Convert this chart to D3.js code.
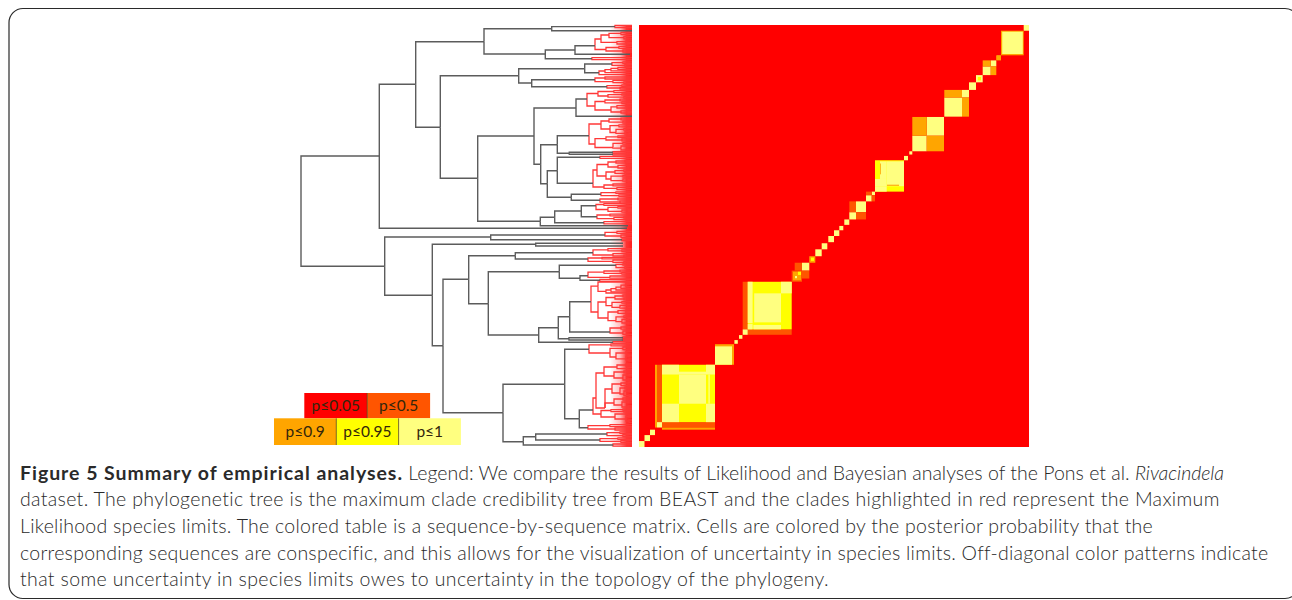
<!DOCTYPE html>
<html>
<head>
<meta charset="utf-8">
<script src="https://cdn.jsdelivr.net/npm/d3@7"></script>
<style>
  html, body { margin: 0; padding: 0; background: #fff; }
  svg { display: block; }
</style>
</head>
<body>
<svg width="1292" height="600"></svg>
<script>
// posterior probability classes, low to high
var levelLabels = ["p≤0.05", "p≤0.5", "p≤0.9", "p≤0.95", "p≤1"];
var levelColors = ["#ff0000", "#ff5500", "#ffa500", "#ffff00", "#ffff80"];

var sequenceCount = 195;

// single sequences / small groups along the diagonal: [from, to, level]
var diagonalCells = [
    [0, 2.75, 4], [2.75, 5.5, 4], [5.5, 8, 4], [47.7, 49.4, 4], [50, 51.7, 4],
    [88.15, 91.35, 4], [91.35, 94.15, 4], [94.65, 97.5, 4], [97.5, 100.15, 4],
    [100.15, 102.15, 4], [102.65, 105.15, 4], [132.5, 134.5, 4], [135.15, 136.65, 4],
    [165, 168.5, 4], [178.9, 180.8, 4], [192.35, 195, 4]
];

// blocks of the matrix, painted in order: [colFrom, colTo, rowFrom, rowTo, level]
var matrixBlocks = [
    // big clade bottom left
    [8, 9, 9, 38, 2], [9, 11.5, 11.5, 38, 1], [11.5, 38, 9, 11.5, 1], [11.5, 38, 8, 9, 2],
    [9, 11.5, 9, 11.5, 4], [11.5, 38, 11.5, 38, 3],
    [11.5, 20, 11.5, 20, 4], [20, 33.5, 20, 33.5, 4], [33.5, 38, 33.5, 38, 4],
    [11.5, 20, 33.5, 38, 4], [33.5, 38, 11.5, 20, 4], [20, 33.5, 33.5, 34.8, 4], [34.7, 35.4, 20, 33.5, 4],
    [38, 47.5, 38, 47.5, 2], [38, 46.5, 38, 46.5, 4],
    // second big clade
    [51.85, 54.35, 54.35, 76.35, 1], [54.35, 76.35, 51.85, 54.35, 1], [51.85, 54.35, 51.85, 54.35, 4],
    [54.35, 76.35, 54.35, 76.35, 3], [54.35, 56.8, 57.2, 76.35, 4], [57.6, 71, 57.6, 71, 4],
    [71, 76.35, 71, 76.35, 4], [57.2, 71, 54.35, 56.4, 4], [54.35, 56.8, 54.35, 56.8, 4],
    // orange patch and the run up to the next clade
    [76.35, 81.5, 76.35, 81.5, 1], [77, 81, 77, 81, 2], [78, 79, 78, 79, 4], [79.5, 81, 79.5, 81, 3],
    [81.5, 85.15, 81.5, 85.15, 4], [77.85, 81.5, 81.5, 85.15, 1], [81.5, 85.15, 77.85, 81.5, 1],
    [85.15, 88.15, 85.15, 88.15, 2], [86, 87.5, 86, 87.5, 3],
    [105.15, 108.5, 105.15, 108.5, 4], [108.5, 113.5, 108.5, 113.5, 4],
    [105.15, 108.5, 108.5, 113.5, 1], [108.5, 113.5, 105.15, 108.5, 1],
    [113.5, 116.35, 113.5, 116.35, 4], [116.35, 118, 116.35, 118, 4],
    [113.5, 116.35, 116.35, 118, 1], [116.35, 118, 113.5, 116.35, 1],
    // yellow block in the middle
    [118, 132.5, 118, 132.5, 3], [118, 123.85, 120.5, 123.85, 4], [118, 120.5, 118, 120.5, 4], [120.5, 123.85, 118, 120.5, 4],
    [120.5, 123.85, 123.85, 132, 4], [123.85, 132.5, 120.5, 132, 4], [120.6, 121, 126, 131, 2], [124, 130, 120.7, 121.2, 2],
    // pairs above it
    [136.65, 143.85, 136.65, 143.85, 4], [143.85, 152.5, 143.85, 152.5, 4],
    [136.65, 143.85, 143.85, 152.5, 2], [143.85, 152.5, 136.65, 143.85, 2],
    [152.65, 161.5, 152.65, 161.5, 4], [161.5, 165, 161.5, 165, 4],
    [152.65, 161.5, 161.5, 165, 2], [161.5, 165, 152.65, 161.5, 2],
    [168.5, 171.85, 168.5, 171.85, 4], [169.4, 171, 169.4, 171, 3],
    [171.85, 175.85, 171.85, 175.85, 4], [175.85, 178.65, 175.85, 178.65, 4],
    [171.85, 175.85, 175.85, 178.65, 2], [175.85, 178.65, 171.85, 175.85, 2],
    [178.65, 181, 178.65, 181, 2], [181, 192.35, 181, 192.35, 2], [181.6, 191.9, 181.6, 191.9, 4]
];

// tree nodes: [age, row, ...children]; a bare number is a tip at age 0 on that row
var blackTree = [331, 186,
    [252.7, 131,
        [216.3, 59.3,
            [148, 16.7,
                [80.3, 3.7, [17, 1.6], [0, 5.7]],
                [86.7, 29, [57, 25, [37, 20.7], [2, 29.3]], [40, 33.7]]],
            [191.7, 102.3,
                [113.3, 50.7,
                    [47.3, 43.7, [20, 39], [33, 47.7]],
                    [100.3, 58, [37, 54.7], [25, 61.7]]],
                [154.3, 153.3,
                    [98, 111,
                        [56, 83, [45, 74], [0, 91.3]],
                        [91.3, 139.3,
                            [74.7, 119.7, [43, 110.7], [62.7, 128.3, [19, 127.3], [19, 129.3]]],
                            [84.7, 158.7,
                                [74.7, 145.7, [32, 132.3], [39, 158.3]],
                                [60.7, 172.3, [31, 169.3], [32, 175.3]]]]],
                    [91.7, 196.3,
                        [77.3, 192.3, [50.7, 186, [36, 180.7], [35, 191.7]], [28, 197.7]],
                        [4, 200.7]]]]],
        [5, 203.3]],
    [247.3, 241.3,
        [141.3, 212, [27, 210], [10, 214.7]],
        [199.7, 270.3,
            [96.3, 219.3, [9, 218.3], [9, 221]],
            [189, 320.7,
                [163.3, 254.3,
                    [116.7, 230.7, [39, 227.7], [44, 234]],
                    [143.7, 278.7,
                        [72.7, 246.7, [16, 240.3], [52, 253.3, [44, 250.7], [32, 255.3]]],
                        [93.3, 310,
                            [73.7, 302.7,
                                [62.3, 291.7, [41, 276.7], [22, 307]],
                                [63, 313.7, [9, 312.7], [9, 315]]],
                            [19, 317.3]]]],
                [129, 387.7,
                    [67.3, 359.3, [43, 324.3], [52.7, 393.7, [39, 385], [44, 402.7]]],
                    [108.7, 416.7, [96.3, 411.7, [25, 409], [32, 415]], [19, 420]]]]]]
];

// Maximum Likelihood species, hang off the leaves of blackTree
var redClades = [
    [17, 1.6, 0.5, 2.7],
    [37, 20.7,
        [31, 14, [23, 10, [11, 8.4, 7.3, 9.5], [8, 12.7, 11.6, 13.8]], [15, 17.4, [6, 16.6, 15.9, 17.6], [5, 19, 18.4, 19.8]]],
        [26, 24.5, [13, 22.5, 21.3, 23.4], [9, 26, 25, 27]]],
    [40, 33.7, 32.6, 34.6],
    [20, 39, [9, 37.6, 36.8, 38.4], [7, 40.4, 39.5, 41.2]],
    [33, 47.7, 49.6, [27, 46, 47.6, [21, 44.6, 45.8, [14, 43.4, 44.4, 42.4]]]],
    [37, 54.7, [27, 53, 52, 54], [19, 56.6, 55.4, [8, 57.6, 56.8, 58.4]]],
    [25, 61.7, [10, 60.6, 59.8, 61.4], [12, 63, 62.4, 64]],
    [45, 74,
        [34, 68.5, [18, 66.5, 65.6, 67.6], [24, 71, [10, 69.6, 69, 70.2], [8, 72.2, 71.4, 73]]],
        [37, 81, [27, 76.5, [12, 75, 74.2, 75.8], [10, 77.8, 77, 78.6]], [21, 85, [15, 81.8, [6, 80.6, 79.8, 81.2], [5, 83, 82.2, 83.8]], [11, 87, [5, 85.8, 85, 86.6], [4, 88, 87.4, 88.8]]]]],
    [43, 110.7,
        [31, 99,
            [23, 96, [11, 94, 93.2, 94.8], [9, 97.2, 96.2, 98]],
            [22, 104, [13, 100.6, [5, 99.8, 99, 100.4], [5, 101.8, 101.2, 102.4]], [16, 107.5, [8, 104.4, 103.6, 105.2], [7, 108.4, [3, 106.6, 106, 107.2], [3, 109, 108.4, 109.8]]]]],
        [37, 119, [26, 113.6, [14, 111.8, 111, 112.6], [10, 115, 114, 115.8]], [19, 122.5, [9, 118.4, 117.4, 119.2], [11, 123.2, [5, 121, 120.2, 121.8], [6, 125, 124.2, 125.8]]]]],
    [19, 127.3, 126.6, 128],
    [19, 129.3, 128.8, 130],
    [32, 132.3, 131.4, 133.4],
    [39, 158.3,
        [35, 145,
            [24, 139.5, [16, 137, [7, 136, 135.4, 136.6], [6, 138, 137.4, 138.8]], [14, 142, [5, 140.4, 139.8, 141], [4, 143, 142.2, 143.8]]],
            [26, 151, [17, 147, [8, 145.6, 144.8, 146.4], [7, 148.4, 147.6, 149.2]], [21, 154, [9, 151.2, 150.4, 152], [9, 155.6, [4, 153.8, 153.2, 154.4], [4, 156.2, 155.6, 157]]]]],
        [28, 162, [19, 160, 159, 160.8], [15, 163.4, 162.6, 164.6]]],
    [31, 169.3, [16, 167.6, 166.8, 168.4], [13, 170.6, 169.8, 171.4]],
    [32, 175.3, [14, 174, 173.2, 174.8], [12, 177, 176.2, 177.8]],
    [36, 180.7, [28, 179.5, 178.6, 180.4], [24, 184.5, [14, 182.4, 181.6, 183.2], [10, 186.4, [4, 185, 184.4, 185.6], [4, 187.2, 186.6, 188]]]],
    [35, 191.7, [22, 190, 189.2, 190.8], [18, 193.6, [8, 192.4, 191.8, 193], [6, 194.6, 194, 195.2]]],
    [28, 197.7, 196.6, 198.8],
    [27, 210, [15, 207.4, 206.4, 208.4], [11, 211, 210, 212.4]],
    [10, 214.7, 214, 215.6],
    [39, 227.7, [24, 224.8, 223.6, [10, 225.8, 225, 226.6]], [19, 230, 228.6, [8, 231, 230.2, 231.8]]],
    [44, 234, [30, 233, 232.4, 233.8], [19, 236.4, 235, [8, 237.4, 236.6, 238]]],
    [16, 240.3, [9, 239.4, 238.8, 240], [7, 242.6, 241.6, 243.4]],
    [44, 250.7, [28, 247.2, [12, 246, 245.2, 246.8], [10, 248.4, 247.6, 249.2]], [22, 252.4, 251, 253.2]],
    [32, 255.3, 254.5, 256.4],
    [41, 276.7,
        [34, 261.2, 257, [26, 266.4, 268, [21, 265, 266.8, [16, 263.6, 265, [11, 262.2, 263.4, [6, 260.2, 261.6, 259, 257.8]]]]]],
        [34, 287,
            [26, 277, [17, 272.5, [9, 271, 270, 271.8], [8, 274, 273.2, 274.8]], [20, 280.6, [10, 277.4, 276.6, 278.2], [12, 282.4, [5, 280.4, 279.6, 281], [4, 283.2, 282.4, 284]]]],
            [24, 293, [14, 287, [6, 285.6, 284.8, 286.4], [6, 288.4, 287.6, 289.2]], [16, 295.6, [8, 291.8, 291, 292.6], [10, 296.6, [4, 294.4, 293.6, 295.2], [4, 298, 297.2, 298.8]]]]]],
    [22, 307, [11, 303, 302, 304.2], [9, 308, 306, 309.4]],
    [9, 312.7, 312, 313.4],
    [9, 315, 314.4, 315.6],
    [19, 317.3, 316.6, 318.2],
    [43, 324.3,
        [21, 319.8, 319, 320.8],
        [22, 328, [9, 323.4, 322, [4, 324.6, 324, 325.2]], [16, 332, [6, 328, 326.6, 329.2], [6, 333.8, [3, 331, 330.4, 331.8], [3, 335, 334, 336]]]]],
    [39, 385,
        [36, 373,
            [28, 348, [15, 342, [6, 340, 339, 341], [5, 343.6, 342.6, 344.4]], [18, 351, [8, 347, 346, 347.8], [9, 353, [3, 350, 349.4, 350.8], [4, 355, 354, 356]]]],
            [27, 383,
                [20, 364, [11, 359, [4, 358, 357.4, 358.8], [4, 360.6, 360, 361.2]], [12, 368, [7, 363, 362.2, 363.8], [8, 369, [3, 366, 365.2, 366.8], [3, 370.6, 370, 371.4]]]],
                [18, 378, [9, 374, 373, 375], [10, 380, [4, 377, 376.2, 377.8], [4, 382, 381, 383]]]]],
        [31, 389, [21, 385.5, [9, 384.6, 384, 385.2], [8, 386.6, 386, 387.2]], [17, 392, [6, 389, 388.2, 389.8], [6, 394, [3, 391.6, 391, 392.2], [3, 396, 395, 397.4]]]]],
    [44, 402.7, [22, 400.6, 399.6, 401.6], [17, 404, 403, 405]],
    [25, 409, [12, 407.6, 406.8, 408.4], [9, 410.6, 409.6, 411.4]],
    [32, 415, [14, 413.6, 412.8, 414.4], [11, 416.4, 415.6, 417.4]],
    [19, 420, 419, 421.2]
];

// caption: each line is a list of [text, style, width it fills in the figure]
var captionLines = [
    [["Figure 5 Summary of empirical analyses.", "bold", 383], [" Legend: We compare the results of Likelihood and Bayesian analyses of the Pons et al. ", "normal", 732], ["Rivacindela", "italic", 89]],
    [["dataset. The phylogenetic tree is the maximum clade credibility tree from BEAST and the clades highlighted in red represent the Maximum", "normal", 1200]],
    [["Likelihood species limits. The colored table is a sequence-by-sequence matrix. Cells are colored by the posterior probability that the", "normal", 1133]],
    [["corresponding sequences are conspecific, and this allows for the visualization of uncertainty in species limits. Off-diagonal color patterns indicate", "normal", 1247]],
    [["that some uncertainty in species limits owes to uncertainty in the topology of the phylogeny.", "normal", 809]]
];

var svg = d3.select("svg");

var fontFamily = "Lato, 'Open Sans', sans-serif";

// figure frame
svg.append("rect")
    .attr("x", 9).attr("y", 8.5)
    .attr("width", 1290).attr("height", 590)
    .attr("rx", 14).attr("ry", 14)
    .attr("fill", "none")
    .attr("stroke", "#2a2a2a")
    .attr("stroke-width", 1.2);

// Scales
var colScale = d3.scaleLinear().domain([0, sequenceCount]).range([639, 1029]);
var rowScale = d3.scaleLinear().domain([0, sequenceCount]).range([447, 25]);
var levelColor = d3.scaleOrdinal(d3.range(levelColors.length), levelColors);

var ageScale = d3.scaleLinear().domain([0, 331]).range([632, 301]);
var treeRowScale = d3.scaleLinear().domain([0, 422]).range([25, 447]);

// Matrix
var matrix = svg.append("g").attr("id", "matrix")
    .style("filter", "blur(0.4px)");

matrix.append("rect")
    .attr("x", colScale(0))
    .attr("y", rowScale(sequenceCount))
    .attr("width", colScale(sequenceCount) - colScale(0))
    .attr("height", rowScale(0) - rowScale(sequenceCount))
    .attr("fill", levelColor(0));

var allBlocks = diagonalCells
    .map(function (d) { return [d[0], d[1], d[0], d[1], d[2]]; })
    .concat(matrixBlocks);

matrix.selectAll("rect.block").data(allBlocks).enter().append("rect")
    .attr("class", "block")
    .attr("x", function (d) { return colScale(d[0]); })
    .attr("y", function (d) { return rowScale(d[3]); })
    .attr("width", function (d) { return colScale(d[1]) - colScale(d[0]); })
    .attr("height", function (d) { return rowScale(d[2]) - rowScale(d[3]); })
    .attr("fill", function (d) { return levelColor(d[4]); });

// Tree
var stepLine = d3.line()
    .x(function (d) { return ageScale(d[0]); })
    .y(function (d) { return treeRowScale(d[1]); })
    .curve(d3.curveStepBefore);

function nodeChildren(d) {
    return Array.isArray(d) ? d.slice(2) : null;
}
function nodeAge(d) { return Array.isArray(d) ? d[0] : 0; }
function nodeRow(d) { return Array.isArray(d) ? d[1] : d; }

function drawClade(group, data) {
    var root = d3.hierarchy(data, nodeChildren);
    group.selectAll(null).data(root.links()).enter().append("path")
        .attr("d", function (l) {
            return stepLine([
                [nodeAge(l.source.data), nodeRow(l.source.data)],
                [nodeAge(l.target.data), nodeRow(l.target.data)]
            ]);
        });
}

var tree = svg.append("g").attr("id", "tree")
    .attr("fill", "none")
    .style("filter", "blur(0.4px)");

// the tips run together into a solid band next to the matrix
var defs = svg.append("defs");
var tipFade = defs.append("linearGradient").attr("id", "tipFade");
tipFade.append("stop").attr("offset", "0%").attr("stop-color", "#ff3030").attr("stop-opacity", 0);
tipFade.append("stop").attr("offset", "45%").attr("stop-color", "#ff3030").attr("stop-opacity", 0.3);
tipFade.append("stop").attr("offset", "75%").attr("stop-color", "#ff2020").attr("stop-opacity", 0.92);
tipFade.append("stop").attr("offset", "100%").attr("stop-color", "#ff2020").attr("stop-opacity", 1);

tree.append("rect")
    .attr("x", ageScale(22))
    .attr("y", treeRowScale(0))
    .attr("width", ageScale(0) - ageScale(22))
    .attr("height", treeRowScale(422) - treeRowScale(0))
    .attr("fill", "url(#tipFade)")
    .attr("stroke", "none");

var redGroup = tree.append("g")
    .attr("stroke", "#ff3838")
    .attr("stroke-width", 1.3);
redClades.forEach(function (c) { drawClade(redGroup, c); });

var blackGroup = tree.append("g")
    .attr("stroke", "#5c5c5c")
    .attr("stroke-width", 1.4);
drawClade(blackGroup, blackTree);

// Legend
var legendRows = [
    { levels: [0, 1], x: 304.3, y: 393, h: 25.3, w: 62.9 },
    { levels: [2, 3, 4], x: 274, y: 418.3, h: 26.7, w: 62.3 }
];

var legend = svg.append("g").attr("id", "legend");
legendRows.forEach(function (row) {
    row.levels.forEach(function (level, i) {
        var x0 = row.x + i * row.w;
        legend.append("rect")
            .attr("x", x0).attr("y", row.y)
            .attr("width", row.w).attr("height", row.h)
            .attr("fill", levelColor(level));
        if (i > 0) {
            legend.append("line")
                .attr("x1", x0).attr("x2", x0)
                .attr("y1", row.y).attr("y2", row.y + row.h)
                .attr("stroke", "#5a4a10")
                .attr("stroke-width", 0.8);
        }
        legend.append("text")
            .attr("x", x0 + row.w / 2)
            .attr("y", row.y + row.h / 2 + 5)
            .attr("text-anchor", "middle")
            .attr("font-family", fontFamily)
            .attr("font-size", 15.5)
            .attr("fill", "#33260c")
            .text(levelLabels[level]);
    });
});

// Caption
var caption = svg.append("g").attr("id", "caption");
captionLines.forEach(function (line, i) {
    var text = caption.append("text")
        .attr("x", 20)
        .attr("y", 479.5 + i * 26.7)
        .attr("font-family", fontFamily)
        .attr("font-size", 19.5)
        .attr("fill", "#2a2a2a")
        .style("white-space", "pre");
    line.forEach(function (run) {
        var span = text.append("tspan")
            .attr("font-weight", run[1] == "bold" ? 700 : 300)
            .attr("font-style", run[1] == "italic" ? "italic" : "normal")
            .text(run[0]);
        // squeeze the run to the width it has in the figure
        var measured = span.node().getComputedTextLength();
        span.attr("letter-spacing", (run[2] - measured) / run[0].length);
    });
});
</script>
</body>
</html>
